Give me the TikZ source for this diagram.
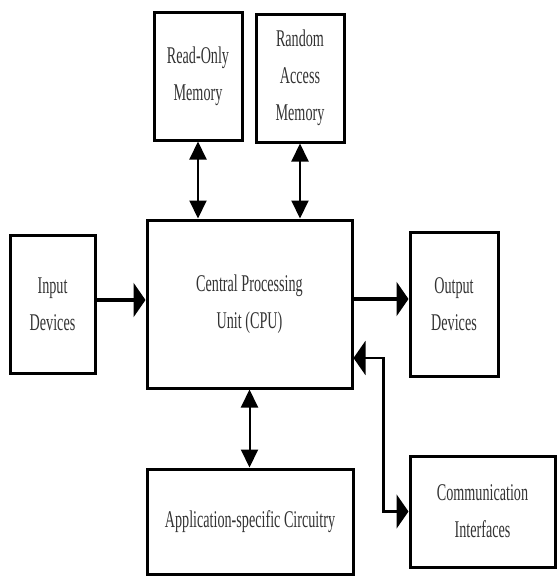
\documentclass[tikz,border=0pt]{standalone}
\usepackage{fontspec}
\newfontfamily\boxfont[FakeStretch=0.59]{Liberation Serif}
\usetikzlibrary{arrows.meta}

\begin{document}
\begin{tikzpicture}[x=1pt,y=-1pt,
	blk/.style={draw,line width=3pt,inner sep=0pt,align=center,text=black!80,
		font=\boxfont\fontsize{24}{37}\selectfont},
	htip/.tip={Triangle[length=12pt,width=34pt]},
	vtip/.tip={Triangle[length=18pt,width=17pt]},
	harr/.style={line width=3.5pt,-htip},
	varr/.style={line width=2pt,vtip-vtip}]
	\useasboundingbox (0,0) rectangle (557,576);
	\node[blk,minimum width=88pt,minimum height=128pt] (rom) at (198,76) {Read-Only\\Memory};
	\node[blk,minimum width=88pt,minimum height=128pt] (ram) at (300,78) {Random\\Access\\Memory};
	\node[blk,minimum width=85pt,minimum height=138pt] (inp) at (52.5,304) {Input\\Devices};
	\node[blk,minimum width=205pt,minimum height=168pt] (cpu) at (249.5,304) {Central Processing\\Unit (CPU)};
	\node[blk,minimum width=88pt,minimum height=144pt] (out) at (454,304) {Output\\Devices};
	\node[blk,minimum width=206pt,minimum height=105pt] (app) at (250,521.5) {Application-specific Circuitry};
	\node[blk,minimum width=145pt,minimum height=111pt] (com) at (482.5,511.5) {Communication\\Interfaces};
	% memories and circuitry
	\draw[varr] (rom.south) -- (rom.south |- cpu.north);
	\draw[varr] (ram.south) -- (ram.south |- cpu.north);
	\draw[varr] (cpu.south) -- (cpu.south |- app.north);
	% devices
	\draw[harr] ([yshift=4pt]inp.east) -- ([yshift=4pt]inp.east -| cpu.west);
	\draw[harr] ([yshift=5pt]cpu.east) -- ([yshift=5pt]cpu.east -| out.west);
	\draw[line width=2.5pt,htip-htip] (com.west) -- ++(-25,0) |- ([yshift=-54pt]cpu.east);
\end{tikzpicture}
\end{document}
